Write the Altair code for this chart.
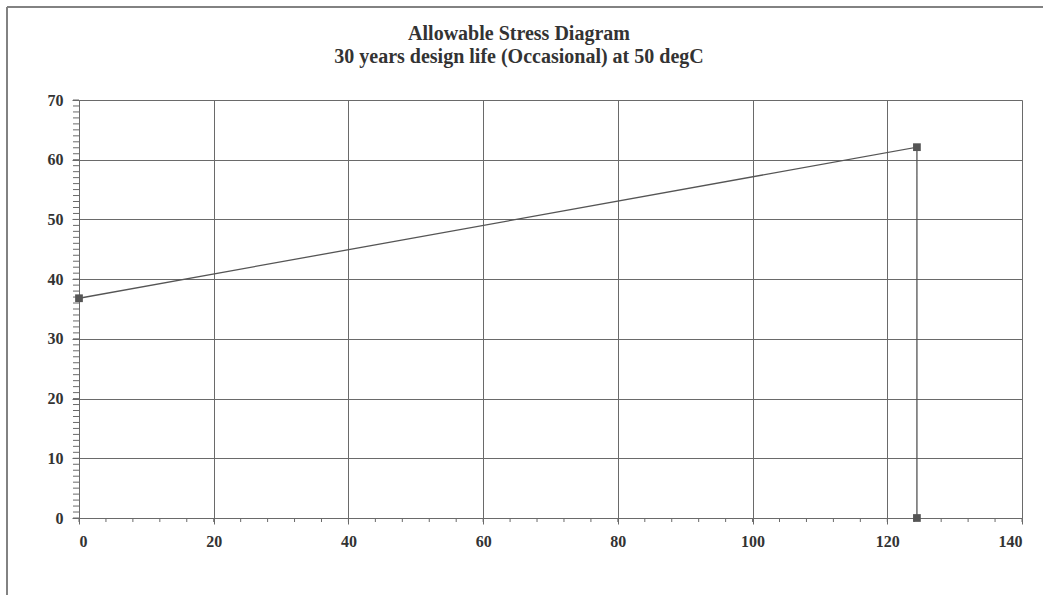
import altair as alt
import pandas as pd

# Data
x_vals = [0, 124.4, 124.4]
y_vals = [36.8, 62.1, 0]
order = [0, 1, 2]

title_lines = ["Allowable Stress Diagram", "30 years design life (Occasional) at 50 degC"]

# axis tick values
major_x = list(range(0, 141, 20))
major_y = list(range(0, 71, 10))
minor_x = list(range(0, 141, 4))
minor_y = list(range(0, 71, 1))

df = pd.DataFrame({"x": x_vals, "y": y_vals, "o": order})
df_mx = pd.DataFrame({"v": minor_x})
df_my = pd.DataFrame({"v": minor_y})

FONT = "Liberation Serif"
TXT = "#333333"
GRID = "#6a6a6a"
LINE = "#555555"

xscale = alt.Scale(domain=[0, 140], nice=False, zero=False)
yscale = alt.Scale(domain=[0, 70], nice=False, zero=False)

line = alt.Chart(df).mark_line(color=LINE, strokeWidth=1.3).encode(
    x=alt.X("x:Q", scale=xscale, axis=alt.Axis(
        values=major_x, grid=True, gridColor=GRID, gridWidth=1, gridOpacity=1,
        domainColor=GRID, tickColor=GRID, tickSize=6, labelPadding=9,
        labelFont=FONT, labelFontSize=16, labelFontWeight="bold", labelColor=TXT,
        title=None)),
    y=alt.Y("y:Q", scale=yscale, axis=alt.Axis(
        values=major_y, grid=True, gridColor=GRID, gridWidth=1, gridOpacity=1,
        domainColor=GRID, tickColor=GRID, tickSize=7, labelPadding=9,
        labelFont=FONT, labelFontSize=16, labelFontWeight="bold", labelColor=TXT,
        title=None)),
    order="o:Q",
)

points = alt.Chart(df).mark_square(color=LINE, size=60, opacity=1).encode(
    x=alt.X("x:Q", scale=xscale),
    y=alt.Y("y:Q", scale=yscale),
)

# minor ticks
minor_y_ticks = alt.Chart(df_my).mark_rule(color=GRID, strokeWidth=1).encode(
    y=alt.Y("v:Q", scale=yscale), x=alt.value(-6), x2=alt.value(0))
minor_x_ticks = alt.Chart(df_mx).mark_rule(color=GRID, strokeWidth=1).encode(
    x=alt.X("v:Q", scale=xscale), y=alt.value(418), y2=alt.value(422))

# outer chart frame
frame_left = alt.Chart(df).mark_rule(color="#808080", strokeWidth=1.5).encode(
    x=alt.value(-72), y=alt.value(-93), y2=alt.value(495))
frame_top = alt.Chart(df).mark_rule(color="#808080", strokeWidth=1.5).encode(
    x=alt.value(-72), x2=alt.value(964), y=alt.value(-93))

# title lines as text
title_style = dict(font=FONT, fontSize=20, fontWeight="bold", color=TXT,
                   align="center", baseline="alphabetic")
title1 = alt.Chart(pd.DataFrame({"t": [title_lines[0]]})).mark_text(**title_style).encode(
    text="t:N", x=alt.value(440), y=alt.value(-60))
title2 = alt.Chart(pd.DataFrame({"t": [title_lines[1]]})).mark_text(**title_style).encode(
    text="t:N", x=alt.value(440), y=alt.value(-37))

chart = alt.layer(
    line, minor_y_ticks, minor_x_ticks, points, frame_left, frame_top, title1, title2
).properties(
    width=943,
    height=418,
    autosize=alt.AutoSizeParams(type="none"),
    padding={"left": 79, "top": 100, "right": 21, "bottom": 77},
).configure_view(
    stroke=GRID, strokeWidth=1
).configure(background="white")

chart.save("out.html", embed_options={"renderer": "svg", "actions": False})
